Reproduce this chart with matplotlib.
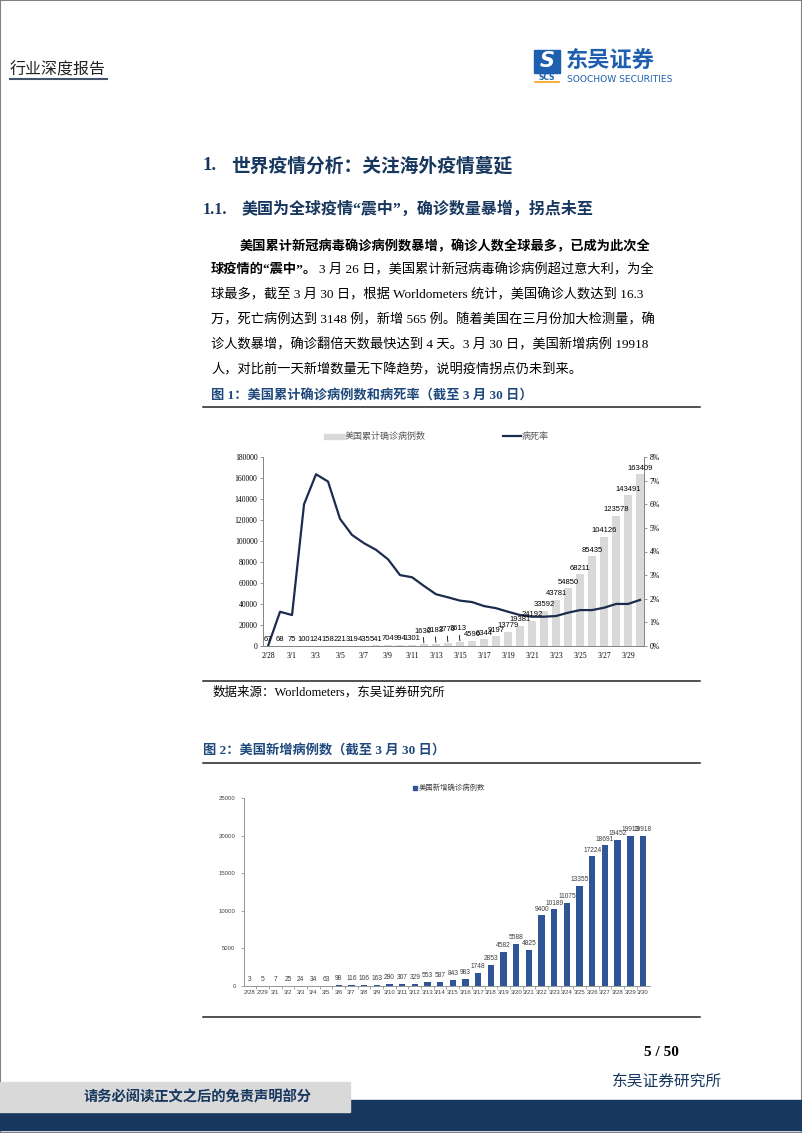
import matplotlib
matplotlib.use("Agg")
import matplotlib.pyplot as plt
import numpy as np
from matplotlib.patches import Rectangle
from matplotlib.lines import Line2D

# --- data ---
dates = ["2/28", "2/29", "3/1", "3/2", "3/3", "3/4", "3/5", "3/6", "3/7", "3/8",
         "3/9", "3/10", "3/11", "3/12", "3/13", "3/14", "3/15", "3/16", "3/17",
         "3/18", "3/19", "3/20", "3/21", "3/22", "3/23", "3/24", "3/25", "3/26",
         "3/27", "3/28", "3/29", "3/30"]
cumulative = [67, 68, 75, 100, 124, 158, 221, 319, 435, 541, 704, 994, 1301,
              1630, 2183, 2770, 3613, 4596, 6344, 9197, 13779, 19381, 24192,
              33592, 43781, 54850, 68211, 85435, 104126, 123578, 143491, 163409]
mortality = [0.0, 1.45, 1.31, 6.0, 7.27, 6.96, 5.38, 4.70, 4.35, 4.07, 3.67,
             3.00, 2.91, 2.54, 2.19, 2.06, 1.92, 1.86, 1.69, 1.60, 1.45, 1.31,
             1.24, 1.24, 1.27, 1.41, 1.52, 1.52, 1.62, 1.78, 1.78, 1.95]
new_cases = [3, 5, 7, 25, 24, 34, 63, 98, 116, 106, 163, 290, 307, 329, 553,
             587, 843, 983, 1748, 2853, 4582, 5588, 4825, 9400, 10189, 11075,
             13355, 17224, 18691, 19452, 19913, 19918]

W, H = 802, 1133
CJK = ["Noto Sans CJK SC", "DejaVu Sans"]
MIX = ["Liberation Serif", "Noto Sans CJK SC"]
NAVY = "#17375E"
CAP = "#1F497D"

fig = plt.figure(figsize=(W / 100, H / 100), dpi=100)


def fx(x):
    return x / W


def fy(y):
    return 1 - y / H


def txt(x, y, s, **kw):
    kw.setdefault("va", "center")
    return fig.text(fx(x), fy(y), s, **kw)


def hline(x0, x1, y, **kw):
    fig.add_artist(Line2D([fx(x0), fx(x1)], [fy(y), fy(y)], **kw))


# page border
fig.add_artist(Rectangle((0, 0), 1, 1, transform=fig.transFigure, fill=False,
                         edgecolor="#808080", lw=1.5))

# --- header ---
txt(10, 70, "行业深度报告", family=CJK, fontsize=11.5, color="#222222")
hline(10, 107, 79, color="#44546A", lw=1.5)

fig.add_artist(Rectangle((fx(534), fy(73)), 26 / W, 23 / H,
                         transform=fig.transFigure, color="#1F5FAF"))
txt(547, 61, "S", family="DejaVu Sans", fontsize=15, fontweight="bold",
    style="italic", color="white", ha="center")
txt(547, 77, "SCS", family="DejaVu Sans", fontsize=5.5, fontweight="bold",
    color="#1F5FAF", ha="center")
hline(535, 559, 82, color="#F0A020", lw=1.2)
txt(566, 60, "东吴证券", family=CJK, fontsize=16, fontweight="bold", color="#1F5FAF")
txt(567, 79, "SOOCHOW SECURITIES", family=["Liberation Sans Narrow", "DejaVu Sans"],
    fontsize=6.6, color="#1F5FAF")

# --- headings & paragraph ---
txt(203, 166, "1.", family=MIX, fontsize=13.5, fontweight="bold", color=NAVY)
txt(231, 166, "世界疫情分析：关注海外疫情蔓延", family=CJK, fontsize=13.5,
    fontweight="bold", color=NAVY)
txt(203, 210, "1.1.", family=MIX, fontsize=11.5, fontweight="bold", color=NAVY)
txt(241, 210, "美国为全球疫情“震中”，确诊数量暴增，拐点未至", family=MIX,
    fontsize=11.5, fontweight="bold", color=NAVY)

renderer = fig.canvas.get_renderer()
body = dict(family=MIX, fontsize=9.5, color="black")
txt(240, 246, "美国累计新冠病毒确诊病例数暴增，确诊人数全球最多，已成为此次全",
    fontweight="bold", **body)
t = txt(211, 270, "球疫情的“震中”。", fontweight="bold", **body)
bb = t.get_window_extent(renderer)
txt(211 + bb.width + 2, 270, "3 月 26 日，美国累计新冠病毒确诊病例超过意大利，为全", **body)
txt(211, 295, "球最多，截至 3 月 30 日，根据 Worldometers 统计，美国确诊人数达到 16.3", **body)
txt(211, 320, "万，死亡病例达到 3148 例，新增 565 例。随着美国在三月份加大检测量，确", **body)
txt(211, 345, "诊人数暴增，确诊翻倍天数最快达到 4 天。3 月 30 日，美国新增病例 19918", **body)
txt(211, 370, "人，对比前一天新增数量无下降趋势，说明疫情拐点仍未到来。", **body)

txt(211, 395, "图 1：美国累计确诊病例数和病死率（截至 3 月 30 日）", family=MIX,
    fontsize=9.5, fontweight="bold", color=CAP)
hline(203, 700, 406.5, color="#222222", lw=1.1)

# --- chart 1 ---
fig.add_artist(Rectangle((fx(324), fy(439)), 20 / W, 5 / H,
                         transform=fig.transFigure, color="#D9D9D9"))
txt(345, 436, "美国累计确诊病例数", family=CJK, fontsize=6.5, color="#595959")
hline(503, 521, 436, color="#1C2B4E", lw=1.6)
txt(522, 436, "病死率", family=CJK, fontsize=6.5, color="#595959")

x = np.arange(len(dates))
ax1 = fig.add_axes([fx(263), fy(646), (644 - 263) / W, (646 - 457) / H])
ax1.bar(x, cumulative, width=0.65, color="#D9D9D9", zorder=1)
ax1.set_xlim(-0.42, 31.33)
ax1.set_ylim(0, 180000)
ax1.set_yticks(range(0, 180001, 20000))
ax1.set_xticks(x[::2])
ax1.set_xticklabels(dates[::2])
for lab in ax1.get_xticklabels() + ax1.get_yticklabels():
    lab.set_fontfamily("Liberation Serif")
    lab.set_fontsize(5.5)
ax1.tick_params(axis="x", length=0, pad=4)
ax1.tick_params(axis="y", length=2, width=0.6, color="#868686", pad=2)
ax1.spines["top"].set_visible(False)
for s in ["left", "bottom", "right"]:
    ax1.spines[s].set_color("#868686")
    ax1.spines[s].set_linewidth(0.7)
ax1.patch.set_alpha(0)

ax1b = ax1.twinx()
ax1b.plot(x, mortality, color="#1C2B4E", lw=1.6, zorder=3)
ax1b.set_ylim(0, 8)
ax1b.set_yticks(range(0, 9))
ax1b.set_yticklabels([f"{i}%" for i in range(0, 9)])
for lab in ax1b.get_yticklabels():
    lab.set_fontfamily("Liberation Serif")
    lab.set_fontsize(5.5)
ax1b.tick_params(axis="y", length=2, width=0.6, color="#868686", pad=2)
ax1b.spines["top"].set_visible(False)
for s in ["left", "bottom", "right"]:
    ax1b.spines[s].set_color("#868686")
    ax1b.spines[s].set_linewidth(0.7)

for i, v in enumerate(cumulative):
    if 13 <= i <= 16:
        ax1b.annotate(str(v), xy=(i, v), xycoords=ax1.transData,
                      xytext=(-1, 7), textcoords="offset points", ha="center",
                      va="bottom", fontsize=5.5, family="Liberation Sans",
                      arrowprops=dict(arrowstyle="-", lw=0.6, color="black",
                                      shrinkA=0, shrinkB=1))
    else:
        ax1b.annotate(str(v), xy=(i, v), xycoords=ax1.transData,
                      xytext=(0, 2), textcoords="offset points", ha="center",
                      va="bottom", fontsize=5.5, family="Liberation Sans")

hline(203, 700, 680.5, color="#222222", lw=1.1)
txt(213, 692, "数据来源：Worldometers，东吴证券研究所", family=MIX, fontsize=9,
    color="black")

# --- chart 2 ---
txt(203, 750, "图 2：美国新增病例数（截至 3 月 30 日）", family=MIX, fontsize=9.5,
    fontweight="bold", color=CAP)
hline(203, 700, 762.5, color="#222222", lw=1.1)

fig.add_artist(Rectangle((fx(413), fy(790)), 4 / W, 4 / H,
                         transform=fig.transFigure, color="#2F5597"))
txt(419, 788, "美国新增确诊病例数", family=CJK, fontsize=5.3, color="#404040")

ax2 = fig.add_axes([fx(244), fy(986), (650 - 244) / W, (986 - 798) / H])
ax2.bar(x, new_cases, width=0.5, color="#2F5597")
ax2.set_xlim(-0.47, 31.55)
ax2.set_ylim(0, 25000)
ax2.set_yticks(range(0, 25001, 5000))
ax2.set_xticks(x)
ax2.set_xticklabels(dates)
ax2.set_xticks(x[:-1] + 0.5, minor=True)
for lab in ax2.get_xticklabels() + ax2.get_yticklabels():
    lab.set_fontfamily("Liberation Sans")
    lab.set_fontsize(4.3)
    lab.set_color("#404040")
ax2.tick_params(axis="x", which="major", length=0, pad=3)
ax2.tick_params(axis="x", which="minor", length=2, width=0.5, color="#868686")
ax2.tick_params(axis="y", length=2, width=0.5, color="#868686", pad=4)
ax2.spines["top"].set_visible(False)
ax2.spines["right"].set_visible(False)
for s in ["left", "bottom"]:
    ax2.spines[s].set_color("#868686")
    ax2.spines[s].set_linewidth(0.6)
for i, v in enumerate(new_cases):
    ax2.annotate(str(v), xy=(i, v), xytext=(0, 2), textcoords="offset points",
                 ha="center", va="bottom", fontsize=4.8, color="#404040",
                 family="Liberation Sans")

hline(203, 700, 1017, color="#222222", lw=1.1)

# --- footer ---
txt(661, 1053, "5 / 50", family="Liberation Serif", fontsize=11,
    fontweight="bold", ha="center", color="black")
txt(612, 1081, "东吴证券研究所", family=CJK, fontsize=11.3, color=NAVY)
fig.add_artist(Rectangle((0, fy(1130)), 1, 30 / H, transform=fig.transFigure,
                         color="#17375E"))
fig.add_artist(Rectangle((0, fy(1112)), 350 / W, 30 / H,
                         transform=fig.transFigure, color="#D9D9D9"))
txt(198, 1097, "请务必阅读正文之后的免责声明部分", family=CJK, fontsize=10.3,
    fontweight="bold", color=NAVY, ha="center")

fig.savefig("out.png", dpi=100)
